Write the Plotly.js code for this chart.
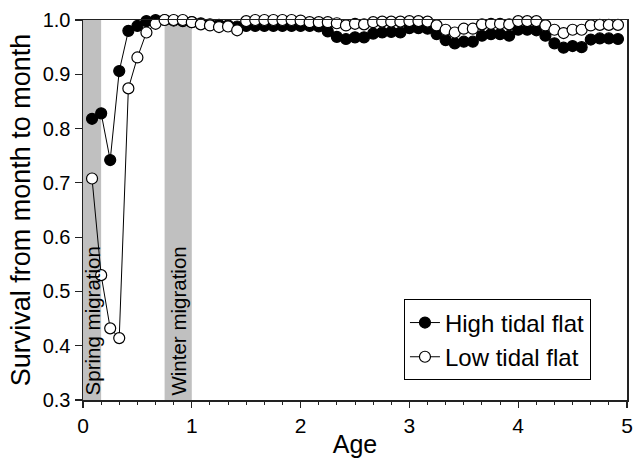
<!DOCTYPE html>
<html>
<head>
<meta charset="utf-8">
<script src="https://cdn.plot.ly/plotly-3.0.1.min.js"></script>
<style>html,body{margin:0;padding:0;background:#fff;}#chart{width:633px;height:458px;}</style>
</head>
<body>
<div id="chart"></div>
<script>
// Age in years (monthly steps)
const age = [0.083,0.167,0.25,0.333,0.417,0.5,0.583,0.667,0.75,0.833,0.917,1.0,
  1.083,1.167,1.25,1.333,1.417,1.5,1.583,1.667,1.75,1.833,1.917,2.0,
  2.083,2.167,2.25,2.333,2.417,2.5,2.583,2.667,2.75,2.833,2.917,3.0,
  3.083,3.167,3.25,3.333,3.417,3.5,3.583,3.667,3.75,3.833,3.917,4.0,
  4.083,4.167,4.25,4.333,4.417,4.5,4.583,4.667,4.75,4.833,4.917];

const highTidal = [0.818,0.828,0.742,0.906,0.980,0.989,0.998,1.000,1.000,0.999,0.998,0.996,
  0.994,0.992,0.991,0.990,0.988,0.989,0.989,0.989,0.989,0.989,0.989,0.989,
  0.989,0.988,0.979,0.969,0.965,0.968,0.968,0.975,0.977,0.978,0.977,0.985,
  0.985,0.984,0.974,0.963,0.957,0.960,0.960,0.971,0.974,0.974,0.971,0.982,
  0.982,0.981,0.971,0.957,0.949,0.952,0.950,0.964,0.966,0.966,0.965];

const lowTidal = [0.708,0.530,0.432,0.414,0.874,0.931,0.977,0.993,1.000,1.000,1.000,0.996,
  0.992,0.990,0.987,0.988,0.981,0.998,1.000,1.000,1.000,1.000,1.000,0.999,
  0.996,0.996,0.996,0.994,0.990,0.993,0.992,0.996,0.997,0.997,0.997,0.998,
  0.998,0.997,0.990,0.982,0.977,0.984,0.984,0.992,0.993,0.993,0.992,0.998,
  0.998,0.998,0.990,0.982,0.976,0.982,0.982,0.990,0.991,0.991,0.991];

const seriesNames = ["High tidal flat", "Low tidal flat"];

// Migration periods (age in years)
const migrationLabels = ["Spring migration", "Winter migration"];
const migrationStart = [0, 0.75];
const migrationEnd = [0.1667, 1.0];

const fontFam = '"Liberation Sans", Arial, Helvetica, sans-serif';

const traces = [
  {x: age, y: highTidal, name: seriesNames[0], type: 'scatter', mode: 'lines+markers',
   cliponaxis: false,
   line: {color: '#000', width: 1},
   marker: {symbol: 'circle', size: 11, color: '#000', line: {color: '#000', width: 1.2}}},
  {x: age, y: lowTidal, name: seriesNames[1], type: 'scatter', mode: 'lines+markers',
   cliponaxis: false,
   line: {color: '#000', width: 1},
   marker: {symbol: 'circle', size: 11, color: '#fff', line: {color: '#000', width: 1.2}}}
];

const shapes = migrationStart.map((s, i) => ({
  type: 'rect', xref: 'x', yref: 'y', x0: s, x1: migrationEnd[i], y0: 0.3, y1: 1.0,
  fillcolor: '#c0c0c0', line: {width: 0}, layer: 'below'
}));

const annotations = migrationStart.map((s, i) => ({
  x: (s + migrationEnd[i]) / 2, y: 0.304, xref: 'x', yref: 'y',
  text: migrationLabels[i], textangle: -90, showarrow: false,
  xanchor: 'center', yanchor: 'bottom',
  font: {family: fontFam, size: 20.5, color: '#000'}
}));

const layout = {
  width: 633, height: 458,
  margin: {l: 83, r: 6, t: 20, b: 58},
  paper_bgcolor: '#fff', plot_bgcolor: '#fff',
  font: {family: fontFam, color: '#000'},
  showlegend: true,
  legend: {x: 0.59, y: 0.158, xanchor: 'left', yanchor: 'middle',
    bgcolor: '#fff', bordercolor: '#000', borderwidth: 1,
    font: {family: fontFam, size: 24, color: '#000'}, tracegroupgap: 0},
  xaxis: {range: [0, 5], tickvals: [0,1,2,3,4,5], ticktext: ['0','1','2','3','4','5'],
    ticks: 'outside', ticklen: 6, tickwidth: 1.2, tickcolor: '#222',
    minor: {dtick: 1/6, tick0: 0, ticks: 'outside', ticklen: 3, tickwidth: 1, tickcolor: '#222'},
    showline: true, linecolor: '#222', linewidth: 1.5, mirror: true,
    showgrid: false, zeroline: false,
    tickfont: {family: fontFam, size: 21, color: '#000'},
    title: {text: 'Age', font: {family: fontFam, size: 25, color: '#000'}, standoff: 0}},
  yaxis: {range: [0.3, 1.0], tickvals: [0.3,0.4,0.5,0.6,0.7,0.8,0.9,1.0],
    ticktext: ['0.3','0.4','0.5','0.6','0.7','0.8','0.9','1.0'],
    ticks: 'outside', ticklen: 7, tickwidth: 1.2, tickcolor: '#222',
    showline: true, linecolor: '#222', linewidth: 1.5, mirror: true,
    showgrid: false, zeroline: false,
    tickfont: {family: fontFam, size: 20, color: '#000'},
    title: {text: 'Survival from month to month', font: {family: fontFam, size: 27, color: '#000'}, standoff: 4}},
  shapes: shapes,
  annotations: annotations
};

Plotly.newPlot('chart', traces, layout, {displayModeBar: false, staticPlot: true});
</script>
</body>
</html>
